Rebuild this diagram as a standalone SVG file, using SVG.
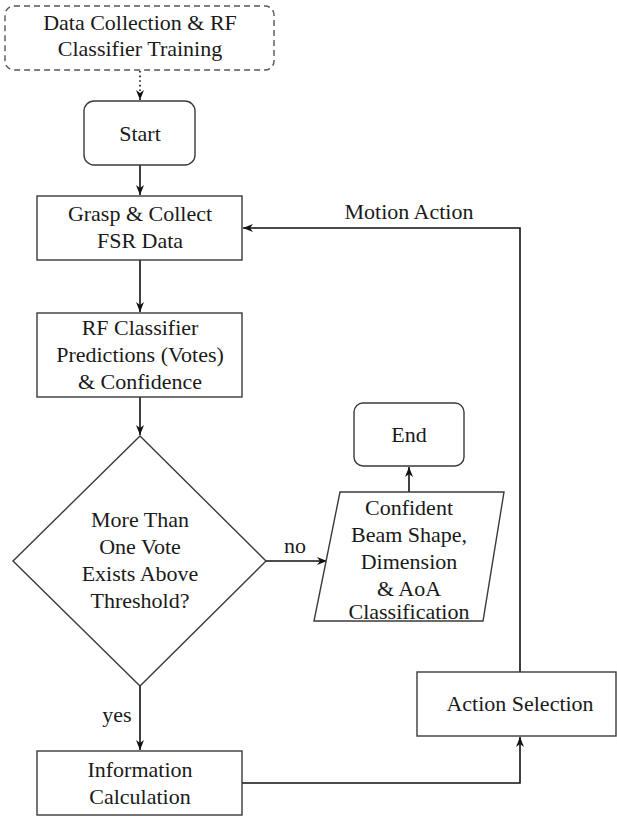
<svg xmlns="http://www.w3.org/2000/svg" width="617" height="821" viewBox="0 0 617 821">
<style>
.box{fill:#fff;stroke:#3a3a3a;stroke-width:1.4}
.dash{fill:none;stroke:#555;stroke-width:1.4;stroke-dasharray:6 4}
.c{fill:none;stroke:#111;stroke-width:1.6}
.dot{fill:none;stroke:#111;stroke-width:1.6;stroke-dasharray:1.6 3}
</style>
<defs>
<marker id="ah" viewBox="0 0 10 10" refX="10" refY="5" markerWidth="10" markerHeight="10" markerUnits="userSpaceOnUse" orient="auto">
<path d="M0,1 L10,5 L0,9 L3,5 Z" fill="#111"/>
</marker>
</defs>
<rect width="617" height="821" fill="#fff"/>
<g font-family="Liberation Serif, serif" font-size="22" fill="#1a1a1a" text-anchor="middle">
<g id="connectors">
<line class="dot" x1="140" y1="71" x2="140" y2="100" marker-end="url(#ah)"/>
<line class="c" x1="140" y1="165" x2="140" y2="195" marker-end="url(#ah)"/>
<line class="c" x1="140" y1="260" x2="140" y2="312" marker-end="url(#ah)"/>
<line class="c" x1="140" y1="397" x2="140" y2="435" marker-end="url(#ah)"/>
<line class="c" x1="266" y1="561" x2="327" y2="561" marker-end="url(#ah)"/>
<line class="c" x1="409" y1="492" x2="409" y2="467" marker-end="url(#ah)"/>
<line class="c" x1="140" y1="686" x2="140" y2="750" marker-end="url(#ah)"/>
<polyline class="c" points="242,783 520,783 520,737" marker-end="url(#ah)"/>
<polyline class="c" points="520,672 520,228 243,228" marker-end="url(#ah)"/>
<text x="295" y="553">no</text>
<text x="117" y="722">yes</text>
<text x="409" y="219">Motion Action</text>
</g>
<g id="data-collection">
<rect class="dash" x="5" y="6" width="269" height="64" rx="9"/>
<text x="140" y="30">Data Collection &amp; RF</text>
<text x="140" y="56">Classifier Training</text>
</g>
<g id="start">
<rect class="box" x="84" y="101" width="111" height="64" rx="10"/>
<text x="140" y="141">Start</text>
</g>
<g id="grasp">
<rect class="box" x="37" y="196" width="205" height="64"/>
<text x="140" y="221">Grasp &amp; Collect</text>
<text x="140" y="248">FSR Data</text>
</g>
<g id="rf-classifier">
<rect class="box" x="37" y="313" width="205" height="84"/>
<text x="140" y="335">RF Classifier</text>
<text x="140" y="362">Predictions (Votes)</text>
<text x="140" y="389">&amp; Confidence</text>
</g>
<g id="decision">
<polygon class="box" points="140,436 266,561 140,686 13,561"/>
<text x="140" y="527">More Than</text>
<text x="140" y="554">One Vote</text>
<text x="140" y="581">Exists Above</text>
<text x="140" y="608">Threshold?</text>
</g>
<g id="end">
<rect class="box" x="354" y="403" width="110" height="63" rx="9"/>
<text x="409" y="442">End</text>
</g>
<g id="classification">
<polygon class="box" points="340,492 504,492 483,621 314,621"/>
<text x="409" y="515">Confident</text>
<text x="409" y="542">Beam Shape,</text>
<text x="409" y="569">Dimension</text>
<text x="409" y="596">&amp; AoA</text>
<text x="409" y="619">Classification</text>
</g>
<g id="action-selection">
<rect class="box" x="417" y="672" width="199" height="64"/>
<text x="520" y="711">Action Selection</text>
</g>
<g id="info-calc">
<rect class="box" x="37" y="751" width="205" height="64"/>
<text x="140" y="777">Information</text>
<text x="140" y="804">Calculation</text>
</g>
</g>
</svg>
